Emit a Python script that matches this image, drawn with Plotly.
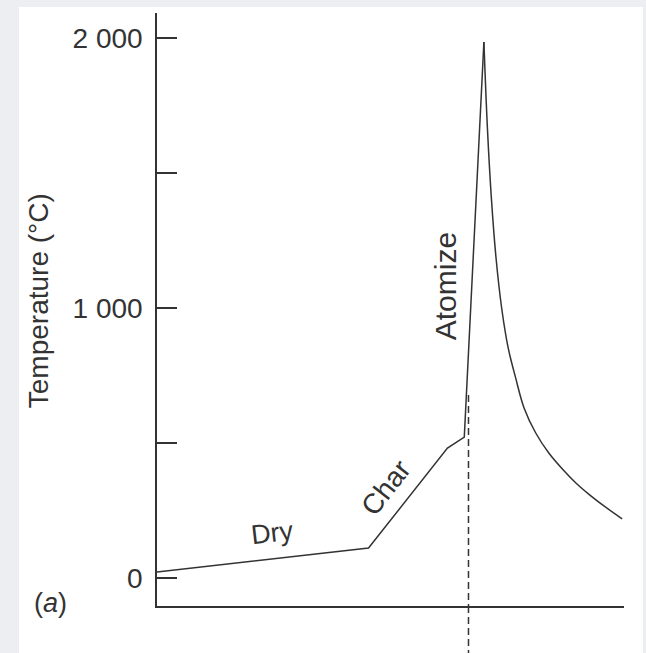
import plotly.graph_objects as go

# Data (arbitrary time units, temperature in °C)
# heating stages: dry, char, atomize rise (piecewise linear)
heat_time = [0, 45.3, 62.2, 65.8, 70.0]
heat_temp = [22, 111, 481, 522, 1985]
# cooling after the atomize peak (smooth curve)
cool_time = [70.0, 70.75, 71.6, 72.6, 73.8, 75.2, 76.8, 78.6, 81.1, 83.9,
             87.0, 89.7, 92.7, 95.7, 99.6]
cool_temp = [1985, 1667, 1407, 1185, 1000, 852, 741, 630, 537, 463,
             400, 352, 307, 267, 219]

atomize_time = 66.7
atomize_top = 678

y_tickvals = [0, 500, 1000, 1500, 2000]
y_ticktext = ["0", "", "1 000", "", "2 000"]

stage_labels = ["Dry", "Char", "Atomize"]
stage_x = [24.6, 49.0, 61.7]
stage_y = [167, 337, 1081]
stage_angle = [-6.5, -52, -90]
stage_size = [27, 28, 30]

x_range = [0, 100]
y_range = [-103.7, 2092.6]

INK = "#333333"
FONT = "Liberation Sans, Arial, Helvetica, sans-serif"

fig = go.Figure()

fig.add_trace(go.Scatter(
    x=heat_time, y=heat_temp, mode="lines",
    line=dict(color=INK, width=1.5), hoverinfo="skip", showlegend=False,
))
fig.add_trace(go.Scatter(
    x=cool_time, y=cool_temp, mode="lines",
    line=dict(color=INK, width=1.5, shape="spline", smoothing=1.0),
    hoverinfo="skip", showlegend=False,
))

# dashed marker of atomize start (inside plot area)
fig.add_trace(go.Scatter(
    x=[atomize_time, atomize_time], y=[atomize_top, y_range[0]], mode="lines",
    line=dict(color=INK, width=1.5, dash="7px,4px"), hoverinfo="skip", showlegend=False,
))

shapes = [
    # white card
    dict(type="rect", xref="paper", yref="paper", x0=-0.2955, x1=1.0407, y0=-0.0793, y1=1.0101,
         fillcolor="white", line=dict(width=0), layer="below"),
    # dashed continuation below the x axis
    dict(type="line", xref="x", yref="paper", x0=atomize_time, x1=atomize_time, y0=0, y1=-0.0793,
         line=dict(color=INK, width=1.5, dash="7px,4px")),
]

annotations = []
for t, x, y, a, s in zip(stage_labels, stage_x, stage_y, stage_angle, stage_size):
    annotations.append(dict(text=t, x=x, y=y, xref="x", yref="y", showarrow=False,
                            textangle=a, font=dict(family=FONT, size=s, color=INK),
                            xanchor="center", yanchor="middle"))
annotations.append(dict(text="Temperature (°C)", x=-0.2548, y=0.514, xref="paper", yref="paper",
                        showarrow=False, textangle=-90, font=dict(family=FONT, size=28, color=INK),
                        xanchor="center", yanchor="middle"))
annotations.append(dict(text="(<i>a</i>)", x=-0.227, y=0.005, xref="paper", yref="paper",
                        showarrow=False, font=dict(family=FONT, size=27, color=INK),
                        xanchor="center", yanchor="middle"))

fig.update_layout(
    width=646, height=653,
    margin=dict(l=157, r=22, t=13, b=47, pad=0),
    paper_bgcolor="#eceef2",
    plot_bgcolor="white",
    shapes=shapes,
    annotations=annotations,
    showlegend=False,
    xaxis=dict(range=x_range, showline=True, linecolor=INK, linewidth=1.5,
               showticklabels=False, ticks="", showgrid=False, zeroline=False, fixedrange=True),
    yaxis=dict(range=y_range, showline=True, linecolor=INK, linewidth=1.5,
               tickvals=y_tickvals, ticktext=y_ticktext, ticks="inside", ticklen=20,
               tickwidth=1.5, tickcolor=INK, ticklabelstandoff=7,
               tickfont=dict(family=FONT, size=28, color=INK),
               showgrid=False, zeroline=False, fixedrange=True),
)

fig.write_html("out.html", config={"displayModeBar": False})
